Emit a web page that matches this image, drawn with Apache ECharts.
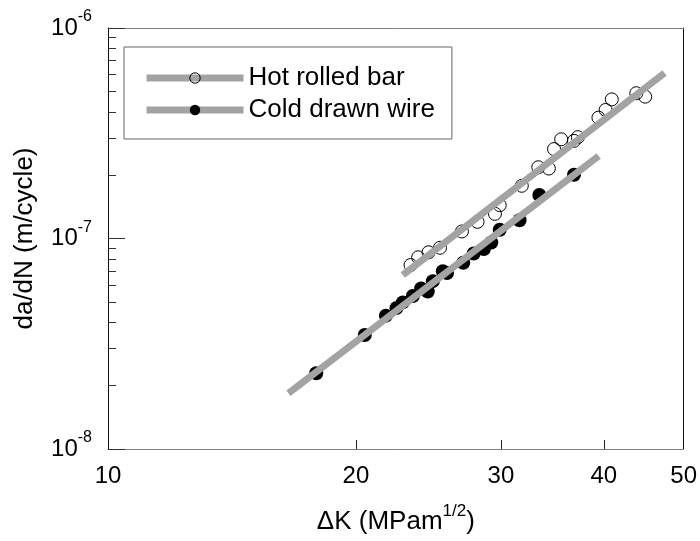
<!DOCTYPE html>
<html><head><meta charset="utf-8">
<script src="https://cdn.jsdelivr.net/npm/echarts@6/dist/echarts.min.js"></script>
<style>html,body{margin:0;padding:0;background:#fff}#c{width:700px;height:541px}</style>
</head><body><div id="c"></div>
<script>
// ---- data ----
const seriesNames = ['Hot rolled bar', 'Cold drawn wire'];
const hotK    = [23.3, 23.8, 24.5, 25.3, 26.9, 28.1, 29.5, 29.9, 31.8, 33.3, 34.3, 34.8, 35.5, 36.8, 37.2, 39.4, 40.2, 40.9, 43.8, 44.9];
const hotRate = [7.48e-8, 8.14e-8, 8.60e-8, 9.04e-8, 1.08e-7, 1.20e-7, 1.31e-7, 1.44e-7, 1.78e-7, 2.18e-7, 2.15e-7, 2.66e-7, 2.96e-7, 2.91e-7, 3.03e-7, 3.75e-7, 4.08e-7, 4.58e-7, 4.90e-7, 4.72e-7];
const coldK    = [17.9, 20.5, 21.75, 22.4, 22.8, 23.45, 24.0, 24.45, 24.8, 25.5, 25.8, 27.0, 27.8, 28.6, 29.2, 29.9, 31.6, 33.4, 36.8];
const coldRate = [2.29e-8, 3.48e-8, 4.30e-8, 4.67e-8, 4.97e-8, 5.33e-8, 5.79e-8, 5.60e-8, 6.27e-8, 6.99e-8, 6.86e-8, 7.67e-8, 8.49e-8, 8.91e-8, 9.57e-8, 1.10e-7, 1.22e-7, 1.61e-7, 2.01e-7];
const hotFitK    = [22.8, 47.4];
const hotFitRate = [6.71e-8, 6.11e-7];
const coldFitK    = [16.56, 39.43];
const coldFitRate = [1.84e-8, 2.465e-7];
const xTickLabels = [10, 20, 30, 40, 50];
const xTickMarks  = [20, 30, 40];
const yMajorTicks = [1e-8, 1e-7, 1e-6];
const yMinorTicks = [2e-8, 3e-8, 4e-8, 5e-8, 6e-8, 7e-8, 8e-8, 9e-8, 2e-7, 3e-7, 4e-7, 5e-7, 6e-7, 7e-7, 8e-7, 9e-7];

const zip = (a, b) => a.map((v, i) => [v, b[i]]);
const FONT = '"Liberation Sans", Arial, sans-serif';
const LINE_GRAY = '#a3a3a3';

const chart = echarts.init(document.getElementById('c'), null, {renderer: 'canvas'});
chart.setOption({
  backgroundColor: '#fff',
  animation: false,
  textStyle: {fontFamily: FONT, color: '#000'},
  grid: {left: 108, right: 16, top: 28, bottom: 92},
  legend: {
    orient: 'vertical', left: 124, top: 47,
    padding: [18, 17, 16, 19],
    borderColor: '#666', borderWidth: 1, backgroundColor: '#fff',
    itemWidth: 97, itemHeight: 13, itemGap: 6,
    selectedMode: false,
    textStyle: {fontFamily: FONT, fontSize: 26, color: '#000', lineHeight: 25},
    lineStyle: {width: 7, color: LINE_GRAY},
    data: [
      {name: seriesNames[0], itemStyle: {color: 'rgba(0,0,0,0)', borderColor: '#000', borderWidth: 1}},
      {name: seriesNames[1], itemStyle: {color: '#000', borderWidth: 0}}
    ]
  },
  xAxis: [
    {
      type: 'log', logBase: 10, min: 10, max: 50, position: 'bottom',
      name: 'ΔK (MPam{s|1/2})', nameLocation: 'middle', nameGap: 54,
      nameTextStyle: {fontFamily: FONT, fontSize: 26, color: '#000',
        rich: {s: {fontSize: 17, fontFamily: FONT, padding: [0, 0, 20, 0]}}},
      axisLine: {show: true, onZero: false, lineStyle: {color: '#808080', width: 1}},
      axisTick: {show: true, inside: true, length: 9, lineStyle: {color: '#222', width: 1}, customValues: xTickMarks},
      axisLabel: {show: true, customValues: xTickLabels, fontFamily: FONT, fontSize: 24, color: '#000', margin: 15,
        formatter: v => String(Math.round(v))},
      splitLine: {show: false}
    },
    {
      type: 'log', logBase: 10, min: 10, max: 50, position: 'top',
      axisLine: {show: true, onZero: false, lineStyle: {color: '#808080', width: 1}},
      axisTick: {show: false}, axisLabel: {show: false}, splitLine: {show: false}
    }
  ],
  yAxis: [
    {
      type: 'log', logBase: 10, min: 1e-8, max: 1e-6, position: 'left',
      name: 'da/dN (m/cycle)', nameLocation: 'middle', nameGap: 70,
      nameTextStyle: {fontFamily: FONT, fontSize: 26, color: '#000'},
      axisLine: {show: true, onZero: false, lineStyle: {color: '#111', width: 1}},
      axisTick: {show: true, inside: true, length: 17, lineStyle: {color: '#333'}, customValues: yMajorTicks},
      axisLabel: {show: true, customValues: yMajorTicks, margin: 16,
        formatter: v => '{b|10}{s|' + Math.round(Math.log10(v)) + '}',
        rich: {
          b: {fontFamily: FONT, fontSize: 24, color: '#000'},
          s: {fontFamily: FONT, fontSize: 16, color: '#000', padding: [0, 0, 22, 0]}
        }},
      splitLine: {show: false}
    },
    {
      type: 'log', logBase: 10, min: 1e-8, max: 1e-6, position: 'right',
      axisLine: {show: true, onZero: false, lineStyle: {color: '#111', width: 1}},
      axisTick: {show: false}, axisLabel: {show: false}, splitLine: {show: false}
    },
    {
      type: 'log', logBase: 10, min: 1e-8, max: 1e-6, position: 'left',
      axisLine: {show: false, onZero: false},
      axisTick: {show: true, inside: true, length: 8, lineStyle: {color: '#333'}, customValues: yMinorTicks},
      axisLabel: {show: false}, splitLine: {show: false}
    }
  ],
  series: [
    {name: seriesNames[0], type: 'line', xAxisIndex: 0, yAxisIndex: 0, symbol: 'none',
     lineStyle: {color: LINE_GRAY, width: 7}, itemStyle: {color: LINE_GRAY},
     data: zip(hotFitK, hotFitRate)},
    {name: seriesNames[1], type: 'line', xAxisIndex: 0, yAxisIndex: 0, symbol: 'none',
     lineStyle: {color: LINE_GRAY, width: 7}, itemStyle: {color: LINE_GRAY},
     data: zip(coldFitK, coldFitRate)},
    {name: seriesNames[0] + ' data', type: 'scatter', xAxisIndex: 0, yAxisIndex: 0,
     symbol: 'circle', symbolSize: 13,
     itemStyle: {color: 'rgba(0,0,0,0)', borderColor: '#000', borderWidth: 1, opacity: 1},
     data: zip(hotK, hotRate)},
    {name: seriesNames[1] + ' data', type: 'scatter', xAxisIndex: 0, yAxisIndex: 0,
     symbol: 'circle', symbolSize: 14,
     itemStyle: {color: '#000', opacity: 1},
     data: zip(coldK, coldRate)}
  ]
});
</script></body></html>
